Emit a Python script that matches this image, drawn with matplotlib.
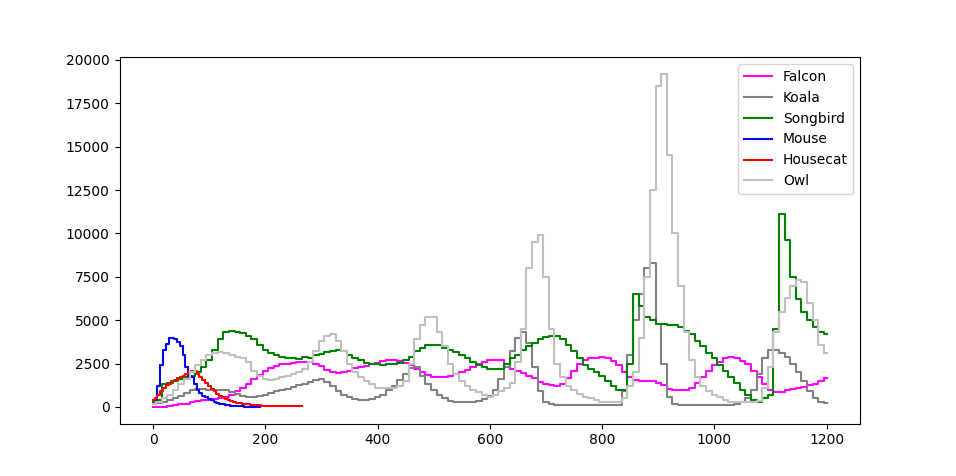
import numpy as np
import matplotlib
matplotlib.use('Agg')
import matplotlib.pyplot as plt

# long series: one value every 10 units from 0 to 1200
days = list(range(0, 1201, 10))

falcon = [0, 0, 20, 50, 100, 150, 200, 300, 350, 400,
          400, 450, 500, 550, 700, 900, 1100, 1350, 1600, 1850,
          2050, 2250, 2350, 2450, 2500, 2550, 2600, 2600, 2600, 2450,
          2350, 2150, 2000, 1950, 2000, 2100, 2250, 2300, 2350, 2450,
          2550, 2650, 2700, 2700, 2650, 2550, 2400, 2200, 2000, 1850,
          1750, 1700, 1750, 1800, 1900, 2000, 2150, 2300, 2450, 2600,
          2700, 2700, 2700, 2450, 2200, 2050, 1950, 1800, 1650, 1450,
          1300, 1250, 1200, 1300, 1650, 2100, 2500, 2700, 2800, 2850,
          2900, 2850, 2650, 2400, 2000, 1700, 1550, 1500, 1500, 1500,
          1400, 1250, 1050, 1000, 1000, 1000, 1100, 1400, 1750, 2100,
          2400, 2600, 2850, 2900, 2850, 2650, 2450, 2100, 1700, 1300,
          1000, 870, 880, 950, 1050, 1100, 1150, 1250, 1300, 1500,
          1650]

koala = [200, 250, 300, 400, 500, 650, 800, 950, 1050, 1050,
         1000, 950, 1000, 950, 850, 750, 650, 600, 600, 650,
         700, 800, 900, 950, 1050, 1150, 1250, 1350, 1450, 1550,
         1600, 1450, 1200, 900, 700, 550, 450, 400, 400, 450,
         550, 700, 950, 1200, 1550, 1900, 2250, 2300, 1800, 1300,
         950, 700, 500, 350, 300, 300, 300, 300, 350, 450,
         650, 1000, 1600, 2300, 3200, 4000, 4300, 3700, 2300, 900,
         300, 150, 100, 100, 100, 100, 100, 100, 100, 100,
         100, 100, 100, 100, 900, 3000, 5000, 6500, 8000, 8300,
         4800, 2500, 600, 200, 100, 100, 100, 100, 100, 100,
         100, 100, 100, 100, 150, 300, 500, 1000, 1900, 2800,
         3300, 3300, 3100, 2900, 2500, 2000, 1500, 900, 500, 300,
         230]

songbird = [300, 400, 1300, 1400, 1500, 1600, 1700, 1800, 2000, 2300,
            2700, 3300, 3900, 4300, 4400, 4300, 4250, 4100, 3900, 3600,
            3300, 3100, 3000, 2900, 2850, 2800, 2750, 2900, 2850, 3000,
            3050, 3150, 3200, 3300, 3200, 3000, 2850, 2700, 2550, 2500,
            2450, 2400, 2450, 2500, 2550, 2700, 2900, 3200, 3400, 3550,
            3600, 3550, 3400, 3300, 3150, 3000, 2800, 2600, 2400, 2300,
            2200, 2200, 2200, 2500, 2800, 3000, 3300, 3500, 3700, 3900,
            4050, 4100, 4100, 3900, 3600, 3200, 2800, 2400, 2200, 2000,
            1800, 1500, 1200, 1000, 1000, 2500, 6500, 5800, 5200, 5000,
            4800, 4800, 4750, 4700, 4600, 4400, 4200, 3800, 3500, 3100,
            2800, 2400, 2100, 1700, 1400, 1000, 700, 400, 300, 500,
            700, 4500, 11100, 9600, 7500, 6200, 5500, 5000, 4600, 4300,
            4200]

owl = [200, 300, 500, 700, 1000, 1300, 1600, 2000, 2400, 2700,
       3000, 3100, 3150, 3100, 3000, 2900, 2800, 2600, 2100, 1800,
       1600, 1550, 1600, 1700, 1800, 1900, 2000, 2200, 2600, 3200,
       3800, 4100, 4200, 3800, 3200, 2500, 2000, 1700, 1500, 1300,
       1100, 1100, 1100, 1100, 1200, 1500, 2500, 3900, 4700, 5200,
       5200, 4300, 3500, 2500, 1900, 1500, 1200, 1000, 850, 700,
       600, 700, 900, 1100, 1400, 2600, 4500, 8000, 9500, 9900,
       7500, 4500, 2500, 1700, 1200, 950, 750, 600, 500, 400,
       300, 300, 300, 300, 500, 1200, 2000, 4000, 7500, 12500,
       18500, 19200, 14500, 10000, 7000, 4300, 2700, 1700, 1200, 900,
       700, 550, 400, 300, 300, 300, 300, 300, 350, 1100,
       2300, 4300, 5500, 6300, 7000, 7300, 7200, 6000, 5000, 3600,
       3100]

# short series: one value every 5 units
mouse_days = list(range(0, 191, 5))
mouse = [400, 400, 1200, 2400, 3300, 3650, 3950, 3950, 3900, 3750,
         3500, 3000, 2300, 1800, 1700, 1300, 1000, 800, 650, 550,
         450, 380, 300, 250, 200, 150, 120, 100, 80, 60,
         50, 40, 30, 20, 15, 10, 10, 5, 5]

housecat_days = list(range(0, 266, 5))
housecat = [400, 500, 700, 900, 1100, 1250, 1350, 1500, 1550, 1650,
            1700, 1800, 1900, 2000, 2100, 2100, 1900, 1700, 1550, 1400,
            1200, 1050, 900, 750, 650, 550, 450, 400, 350, 300,
            250, 220, 200, 170, 150, 130, 110, 100, 90, 80,
            70, 65, 60, 55, 50, 50, 45, 45, 40, 40,
            35, 35, 30, 30]

fig, ax = plt.subplots(figsize=(9.56, 4.76), dpi=100)

ax.step(days, falcon, where='mid', color='magenta', label='Falcon')
ax.step(days, koala, where='mid', color='grey', label='Koala')
ax.step(days, songbird, where='mid', color='green', label='Songbird')
ax.step(mouse_days, mouse, where='mid', color='blue', label='Mouse')
ax.step(housecat_days, housecat, where='mid', color='red', label='Housecat')
ax.step(days, owl, where='mid', color='silver', label='Owl')

ax.legend(loc='upper right')

plt.savefig('out.png')
